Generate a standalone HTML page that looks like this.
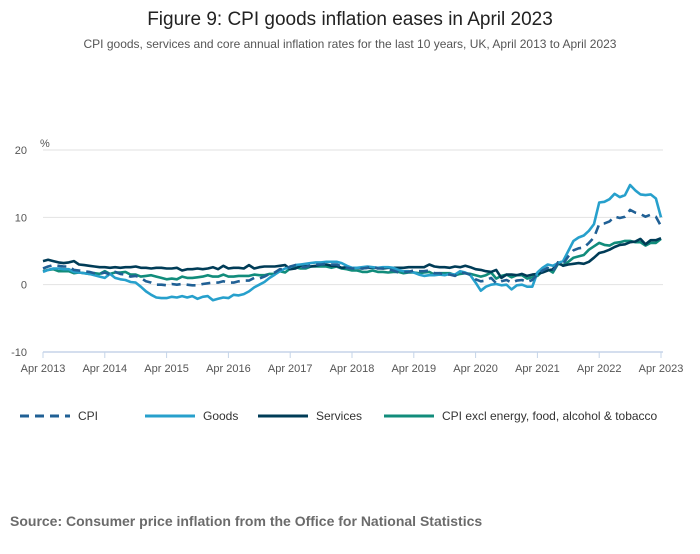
<!DOCTYPE html>
<html><head><meta charset="utf-8">
<style>
body{margin:0;background:#fff;font-family:"Liberation Sans",sans-serif;}
svg text{font-family:"Liberation Sans",sans-serif;}
</style></head>
<body>
<svg id="chart" width="700" height="549">
<text x="350" y="25" text-anchor="middle" font-size="19" fill="#222">Figure 9: CPI goods inflation eases in April 2023</text>
<text x="350" y="48" text-anchor="middle" font-size="12" fill="#555">CPI goods, services and core annual inflation rates for the last 10 years, UK, April 2013 to April 2023</text>
<text x="40" y="147" font-size="11" fill="#555">%</text>
<g id="grid"></g>
<g id="series"></g>
<g id="legend"></g>
<text x="10" y="526" font-size="14" font-weight="bold" fill="#6b6b6b">Source: Consumer price inflation from the Office for National Statistics</text>
</svg>
<script>
const yTicks=[20,10,0,-10];
const xLabels=["Apr 2013","Apr 2014","Apr 2015","Apr 2016","Apr 2017","Apr 2018","Apr 2019","Apr 2020","Apr 2021","Apr 2022","Apr 2023"];
const seriesNames=["CPI","Goods","Services","CPI excl energy, food, alcohol & tobacco"];
const cpi=[2.4,2.7,2.9,2.8,2.7,2.7,2.2,2.1,2.0,
1.9,1.7,1.6,1.8,1.5,1.9,1.6,1.5,1.2,1.3,1.0,0.5,
0.3,0.0,0.0,-0.1,0.1,0.0,0.1,0.0,-0.1,-0.1,0.1,0.2,
0.3,0.3,0.5,0.3,0.3,0.5,0.6,0.6,1.0,0.9,1.2,1.6,
1.8,2.3,2.3,2.7,2.9,2.6,2.6,2.9,3.0,3.0,3.1,3.0,
3.0,2.7,2.5,2.4,2.4,2.4,2.5,2.7,2.4,2.4,2.3,2.1,
1.8,1.9,1.9,2.1,2.0,2.0,2.1,1.7,1.7,1.5,1.5,1.3,
1.8,1.7,1.5,0.8,0.5,0.6,1.0,0.2,0.5,0.7,0.3,0.6,
0.7,0.4,0.7,1.5,2.1,2.5,2.0,3.2,3.1,4.2,5.1,5.4,
5.5,6.2,7.0,9.0,9.1,9.4,10.1,9.9,10.1,11.1,10.7,10.5,
10.1,10.4,10.1,8.7];
const goods=[1.9,2.2,2.4,2.4,2.3,2.3,1.9,1.8,1.7,
1.6,1.4,1.2,1.0,1.6,1.0,0.8,0.7,0.4,0.3,-0.3,-1.0,
-1.5,-1.9,-2.0,-2.0,-1.8,-1.9,-1.7,-1.9,-1.7,-2.1,-1.8,-1.7,
-2.3,-2.1,-1.9,-2.0,-1.5,-1.6,-1.4,-1.0,-0.4,0.0,0.4,1.0,
1.5,2.0,2.4,2.6,2.9,3.0,3.1,3.2,3.3,3.3,3.4,3.4,
3.4,3.2,2.8,2.5,2.5,2.6,2.7,2.6,2.5,2.6,2.6,2.5,
2.2,2.0,2.0,1.8,1.5,1.3,1.4,1.4,1.5,1.4,1.6,1.5,
2.0,1.8,1.4,0.3,-0.9,-0.3,0.0,0.1,-0.1,0.0,-0.7,-0.1,
0.0,-0.3,-0.3,1.8,2.5,3.0,2.8,3.2,3.5,5.0,6.5,7.0,
7.3,8.0,9.0,12.2,12.3,12.7,13.5,13.0,13.3,14.8,14.0,13.4,
13.3,13.4,12.8,10.0];
const services=[3.5,3.7,3.5,3.3,3.2,3.3,3.5,3.0,2.9,
2.8,2.7,2.6,2.6,2.5,2.6,2.5,2.6,2.6,2.7,2.5,2.5,
2.4,2.5,2.5,2.4,2.4,2.5,2.1,2.3,2.3,2.4,2.3,2.4,
2.6,2.3,2.8,2.4,2.5,2.5,2.4,2.9,2.4,2.6,2.7,2.7,
2.7,2.8,2.9,2.3,2.4,2.8,2.8,2.7,2.8,3.0,3.0,2.8,
2.8,2.5,2.6,2.5,2.5,2.4,2.5,2.5,2.5,2.4,2.5,2.5,
2.5,2.5,2.6,2.6,2.6,2.6,3.0,2.7,2.6,2.6,2.5,2.7,
2.6,2.8,2.6,2.3,2.2,2.0,1.9,2.2,1.0,1.5,1.5,1.4,
1.6,1.3,1.5,1.6,1.8,2.1,2.3,3.3,2.8,3.0,3.1,3.2,
3.1,3.4,4.0,4.7,4.9,5.2,5.6,5.9,6.0,6.3,6.4,6.8,
6.0,6.6,6.6,6.9];
const core=[2.0,2.2,2.3,2.0,2.0,2.0,1.7,1.8,1.7,
1.6,1.7,1.6,2.0,1.6,1.8,1.8,1.9,1.5,1.5,1.2,1.3,
1.4,1.2,1.0,0.8,0.9,0.8,1.2,1.0,1.0,1.1,1.2,1.4,
1.2,1.2,1.5,1.2,1.2,1.3,1.3,1.3,1.5,1.4,1.4,1.6,
1.6,2.0,1.8,2.4,2.6,2.4,2.4,2.7,2.7,2.7,2.7,2.5,
2.7,2.4,2.3,2.1,2.1,1.9,1.9,2.1,1.9,1.9,1.8,1.9,
1.9,1.7,1.8,1.8,1.7,1.8,1.9,1.5,1.7,1.7,1.7,1.4,
1.6,1.7,1.6,1.4,1.2,1.4,1.8,0.9,1.3,1.5,1.1,1.4,
1.4,0.9,1.1,1.3,2.0,2.3,1.8,3.1,2.9,3.4,4.0,4.2,
4.4,5.2,5.7,6.2,5.9,5.8,6.2,6.3,6.5,6.5,6.3,6.3,
5.8,6.2,6.2,6.8];
const NS="http://www.w3.org/2000/svg";
const X0=43,X1=661,Y20=150,Y10n=352;
function xs(i){return X0+(X1-X0)*i/120;}
function ys(v){return Y20+(20-v)*(Y10n-Y20)/30;}
function mk(t,a,p){const e=document.createElementNS(NS,t);for(const k in a)e.setAttribute(k,a[k]);p.appendChild(e);return e;}
const grid=document.getElementById('grid');
yTicks.forEach(v=>{
  const l=mk('line',{x1:X0,x2:663,y1:ys(v),y2:ys(v),stroke:v===-10?'#c5d4e8':'#e2e2e2','stroke-width':v===-10?1.5:1},grid);
  
  
  const t=mk('text',{x:27,y:ys(v)+4,'text-anchor':'end','font-size':11,fill:'#555'},grid);
  t.textContent=v;
  
  
});
xLabels.forEach((s,k)=>{
  const x=xs(k*12);
  const l=mk('line',{x1:x,x2:x,y1:352,y2:358,stroke:'#c5d4e8','stroke-width':1},grid);
  
  
  const t=mk('text',{x:x,y:372,'text-anchor':'middle','font-size':11,fill:'#555'},grid);
  t.textContent=s;
  
  
});
const colors=['#206095','#27a0cc','#003c57','#118c7b'];
const data=[cpi,goods,services,core];
const sg=document.getElementById('series');
[3,2,1,0].forEach(j=>{
  const d=data[j].map((v,i)=>(i?'L':'M')+xs(i).toFixed(1)+','+ys(v).toFixed(1)).join('');
  const p=mk('path',{d:d,fill:'none',stroke:colors[j],'stroke-width':2.6,'stroke-linejoin':'round','stroke-dasharray':j===0?'9,6':'none'},sg);
  
  
});
const lg=document.getElementById('legend');
const lx=[20,145,258,384];
seriesNames.forEach((n,j)=>{
  const l=mk('line',{x1:lx[j],x2:lx[j]+50,y1:416,y2:416,stroke:colors[j],'stroke-width':3,'stroke-dasharray':j===0?'9,6':'none'},lg);
  
  
  const t=mk('text',{x:lx[j]+58,y:420,'font-size':12,fill:'#333'},lg);
  t.textContent=n;
  
  
});
</script>
</body></html>
